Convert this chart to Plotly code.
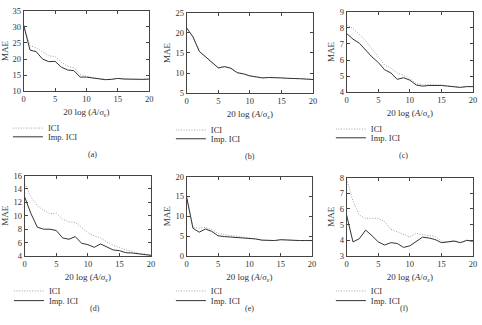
import plotly.graph_objects as go

x = list(range(21))

a_ici = [30.5, 24.2, 23.5, 22.3, 21.0, 20.8, 19.0, 17.8, 17.3, 15.2, 14.7, 14.2, 14.0, 13.7, 13.7, 14.0, 13.8, 13.7, 13.6, 13.6, 13.7]
a_imp = [30.5, 22.8, 22.3, 20.0, 19.2, 19.3, 17.5, 16.6, 16.4, 14.4, 14.4, 14.1, 14.0, 13.6, 13.7, 14.0, 13.8, 13.7, 13.6, 13.7, 13.8]

b_ici = [21.2, 19.0, 15.4, 14.0, 12.7, 11.3, 11.6, 11.2, 10.1, 9.8, 9.3, 9.1, 8.8, 8.9, 8.9, 8.8, 8.7, 8.7, 8.6, 8.5, 8.4]
b_imp = [21.2, 19.0, 15.4, 14.0, 12.7, 11.3, 11.6, 11.2, 10.1, 9.8, 9.3, 9.1, 8.8, 8.9, 8.9, 8.8, 8.7, 8.7, 8.6, 8.5, 8.4]

c_ici = [8.2, 7.95, 7.6, 7.2, 6.7, 6.2, 5.7, 5.5, 5.2, 5.05, 4.85, 4.55, 4.45, 4.47, 4.47, 4.45, 4.4, 4.35, 4.3, 4.35, 4.35]
c_imp = [7.65, 7.3, 7.05, 6.6, 6.2, 5.85, 5.4, 5.2, 4.8, 4.9, 4.75, 4.45, 4.38, 4.42, 4.43, 4.42, 4.38, 4.35, 4.3, 4.35, 4.35]

d_ici = [14.8, 12.8, 11.5, 10.8, 10.3, 10.4, 9.5, 9.1, 9.0, 8.3, 7.5, 7.0, 6.7, 6.1, 5.6, 5.3, 4.9, 4.7, 4.4, 4.3, 4.1]
d_imp = [12.8, 10.3, 8.3, 8.0, 8.0, 7.8, 6.7, 6.5, 6.9, 5.9, 5.7, 5.3, 5.8, 5.3, 4.9, 4.8, 4.5, 4.45, 4.35, 4.3, 4.1]

e_ici = [14.8, 7.3, 7.0, 7.2, 6.6, 5.7, 5.4, 5.1, 5.0, 4.8, 4.5, 4.3, 4.0, 3.9, 3.9, 4.1, 4.0, 3.9, 3.9, 3.9, 3.9]
e_imp = [14.8, 7.0, 6.0, 6.8, 6.2, 5.1, 4.9, 4.8, 4.7, 4.6, 4.4, 4.3, 4.0, 3.9, 3.9, 4.1, 4.0, 3.9, 3.9, 3.9, 3.9]

f_ici = [7.9, 6.5, 5.6, 5.4, 5.4, 5.4, 5.2, 4.7, 4.55, 4.4, 4.2, 4.45, 4.35, 4.3, 4.25, 3.95, 3.9, 4.0, 3.85, 4.0, 3.9]
f_imp = [5.6, 3.9, 4.1, 4.65, 4.3, 3.9, 3.7, 3.85, 3.8, 3.55, 3.65, 3.95, 4.2, 4.15, 4.05, 3.85, 3.9, 3.95, 3.85, 4.0, 3.95]

panel_labels = ["(a)", "(b)", "(c)", "(d)", "(e)", "(f)"]
series_names = ["ICI", "Imp. ICI"]
y_ranges = [(10, 35), (5, 25), (4, 9), (4, 16), (0, 20), (3, 8)]
y_dticks = [5, 5, 1, 2, 5, 1]
series = [(a_ici, a_imp), (b_ici, b_imp), (c_ici, c_imp), (d_ici, d_imp), (e_ici, e_imp), (f_ici, f_imp)]

W, H = 482, 325
# plot areas in pixels: (left, right, top, bottom)
boxes = [(22, 149, 6, 89), (187, 315, 8, 91), (349, 477, 7, 90),
         (23, 151, 176, 259), (187, 314, 177, 259), (349, 477, 178, 259)]
# offsets below plot bottom: legend row 1, legend row 2, panel label
offs = [(38, 47, 65)] * 3 + [(36, 46, 61)] * 3

FONT = "Liberation Serif"
TXT = "#333"
fig = go.Figure()
layout = dict(width=W, height=H, margin=dict(l=0, r=0, t=0, b=0),
              paper_bgcolor="white", plot_bgcolor="white",
              font=dict(family=FONT, size=8.5, color=TXT), showlegend=True)
annotations = []
styles = [dict(color="#a0a0a0", width=1, dash="1px,1.6px"), dict(color="#333", width=1)]
for i, (pair, (l, r, t, b)) in enumerate(zip(series, boxes)):
    k = "" if i == 0 else str(i + 1)
    for j, (vals, nm) in enumerate(zip(pair, series_names)):
        idx = 2 * i + j
        lg = "legend" if idx == 0 else "legend" + str(idx + 1)
        fig.add_trace(go.Scatter(x=x, y=vals, mode="lines", name=nm, line=styles[j],
                                 xaxis="x" + k, yaxis="y" + k, legend=lg))
        layout[lg] = dict(x=(l - 16) / W, y=1 - (b + offs[i][j]) / H, xanchor="left",
                          yanchor="middle", bgcolor="rgba(0,0,0,0)",
                          font=dict(family=FONT, size=8.5, color=TXT),
                          itemwidth=30, borderwidth=0)
    ax = dict(showline=True, linecolor="#444", linewidth=1, mirror="ticks",
              ticks="inside", ticklen=3, tickcolor="#444", showgrid=False,
              zeroline=False, tickfont=dict(family=FONT, size=8.5, color=TXT))
    layout["xaxis" + k] = dict(ax, domain=[l / W, r / W], anchor="y" + k,
                                range=[0, 20], dtick=5, tick0=0,
                                title=dict(text="20 log (<i>A</i>/<i>σ</i><sub>ε</sub>)",
                                           font=dict(family=FONT, size=9, color=TXT), standoff=5))
    layout["yaxis" + k] = dict(ax, domain=[1 - b / H, 1 - t / H], anchor="x" + k,
                                range=list(y_ranges[i]), dtick=y_dticks[i], tick0=0,
                                title=dict(text="MAE", font=dict(family=FONT, size=9, color=TXT), standoff=3))
    annotations.append(dict(text=panel_labels[i], x=(l + r) / 2 / W,
                            y=1 - (b + offs[i][2]) / H, xref="paper", yref="paper",
                            showarrow=False, font=dict(family=FONT, size=8, color=TXT)))
layout["annotations"] = annotations
fig.update_layout(**layout)
fig.write_html("out.html")
